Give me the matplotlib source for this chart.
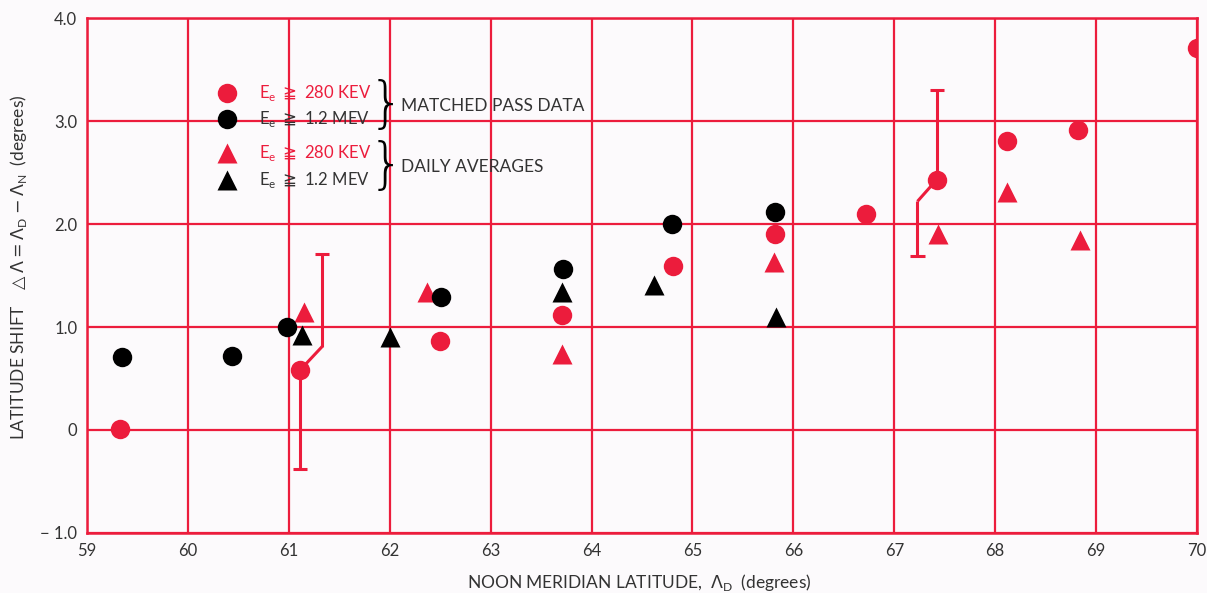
import numpy as np
import matplotlib
matplotlib.use("Agg")
import matplotlib.pyplot as plt

plt.rcParams['font.family'] = ['Lato', 'DejaVu Sans']
plt.rcParams['mathtext.fontset'] = 'dejavusans'

RED = '#EC1C3C'
INK = '#333333'

# matched pass data, E >= 280 keV (red circles)
pass_lo_x = [59.33, 61.11, 62.5, 63.71, 64.81, 65.82, 66.72, 67.42, 68.12, 68.82, 70.0]
pass_lo_y = [0.01, 0.58, 0.86, 1.12, 1.59, 1.90, 2.10, 2.43, 2.81, 2.91, 3.71]

# matched pass data, E >= 1.2 MeV (black circles)
pass_hi_x = [59.35, 60.44, 60.98, 62.51, 63.72, 64.80, 65.82]
pass_hi_y = [0.71, 0.72, 1.00, 1.29, 1.56, 2.00, 2.12]

# daily averages, E >= 280 keV (red triangles)
day_lo_x = [61.15, 62.37, 63.71, 65.81, 67.43, 68.12, 68.84]
day_lo_y = [1.15, 1.34, 0.74, 1.63, 1.90, 2.31, 1.84]

# daily averages, E >= 1.2 MeV (black triangles)
day_hi_x = [61.13, 62.0, 63.71, 64.62, 65.83]
day_hi_y = [0.92, 0.90, 1.34, 1.41, 1.10]

# error bars: point, bend point, lower and upper limits
err_x = [61.11, 67.42]
err_y = [0.58, 2.43]
err_bend_x = [61.33, 67.23]
err_bend_y = [0.81, 2.22]
err_lo = [-0.38, 1.69]
err_hi = [1.71, 3.30]
err_lo_x = [61.11, 67.23]   # x of the lower whisker
err_hi_x = [61.33, 67.42]   # x of the upper whisker

x_ticks = list(range(59, 71))
y_ticks = [-1, 0, 1, 2, 3, 4]
y_tick_labels = ['\u2212 1.0', '0', '1.0', '2.0', '3.0', '4.0']

fig = plt.figure(figsize=(12.07, 5.93), dpi=100, facecolor='#fcfafc')
ax = fig.add_axes([0.0721, 0.1012, 0.9196, 0.8684])
ax.set_facecolor('#fcfafc')
ax.set_xlim(59, 70)
ax.set_ylim(-1, 4)

for xv in x_ticks:
    ax.axvline(xv, color=RED, lw=1.6, zorder=1)
for yv in y_ticks:
    ax.axhline(yv, color=RED, lw=1.6, zorder=1)
for s in ax.spines.values():
    s.set_color(RED)
    s.set_linewidth(1.8)

ax.set_xticks(x_ticks)
ax.set_xticklabels([str(v) for v in x_ticks])
ax.set_yticks(y_ticks)
ax.set_yticklabels(y_tick_labels)
ax.tick_params(length=0, labelsize=12, labelcolor=INK, pad=7)

# error bars
for i in range(len(err_x)):
    kw = dict(color=RED, lw=2.2, zorder=2, solid_capstyle='butt')
    ax.plot([err_x[i], err_bend_x[i]], [err_y[i], err_bend_y[i]], **kw)
    if err_lo_x[i] == err_x[i]:
        ax.plot([err_x[i], err_x[i]], [err_y[i], err_lo[i]], **kw)
        ax.plot([err_bend_x[i], err_bend_x[i]], [err_bend_y[i], err_hi[i]], **kw)
    else:
        ax.plot([err_bend_x[i], err_bend_x[i]], [err_bend_y[i], err_lo[i]], **kw)
        ax.plot([err_x[i], err_x[i]], [err_y[i], err_hi[i]], **kw)
    ax.plot([err_lo_x[i] - 0.07, err_lo_x[i] + 0.07], [err_lo[i]] * 2, **kw)
    ax.plot([err_hi_x[i] - 0.07, err_hi_x[i] + 0.07], [err_hi[i]] * 2, **kw)

ax.plot(pass_lo_x, pass_lo_y, 'o', color=RED, ms=14, mec='none', zorder=3)
ax.plot(day_lo_x, day_lo_y, '^', color=RED, ms=15, mec='none', zorder=3)
ax.plot(day_hi_x, day_hi_y, '^', color='black', ms=15, mec='none', zorder=4)
ax.plot(pass_hi_x, pass_hi_y, 'o', color='black', ms=14, mec='none', zorder=4)

# legend, drawn by hand
leg_rows = [0.854, 0.804, 0.738, 0.685]
leg_marks = ['o', 'o', '^', '^']
leg_cols = [RED, 'black', RED, 'black']
leg_text = [r'E$_\mathregular{e}$ $\geqq$ 280 KEV', r'E$_\mathregular{e}$ $\geqq$ 1.2 MEV',
            r'E$_\mathregular{e}$ $\geqq$ 280 KEV', r'E$_\mathregular{e}$ $\geqq$ 1.2 MEV']
for yr, m, c, t in zip(leg_rows, leg_marks, leg_cols, leg_text):
    ax.plot([0.126], [yr], m, color=c, ms=14 if m == 'o' else 15, mec='none',
            transform=ax.transAxes, clip_on=False, zorder=5)
    ax.text(0.155, yr, t, color=RED if c == RED else INK, fontsize=12,
            va='center', ha='left', transform=ax.transAxes, zorder=5)
for y0, lab in [(0.829, 'MATCHED PASS DATA'), (0.711, 'DAILY AVERAGES')]:
    ax.text(0.270, y0, '}', fontsize=40, color='black', va='center', ha='center',
            transform=ax.transAxes, family='DejaVu Sans', fontweight='light')
    ax.text(0.283, y0, lab, fontsize=12.5, color=INK, va='center', ha='left',
            transform=ax.transAxes)

fig.text(0.53, 0.017, r'NOON MERIDIAN LATITUDE,  $\Lambda_\mathregular{D}$  (degrees)',
         fontsize=12.5, color=INK, ha='center', va='center')
fig.text(0.015, 0.55, r'LATITUDE SHIFT   $\triangle\Lambda = \Lambda_\mathregular{D} - \Lambda_\mathregular{N}$  (degrees)',
         fontsize=12.5, color=INK, ha='center', va='center', rotation=90)

fig.savefig('out.png', dpi=100, facecolor=fig.get_facecolor())
